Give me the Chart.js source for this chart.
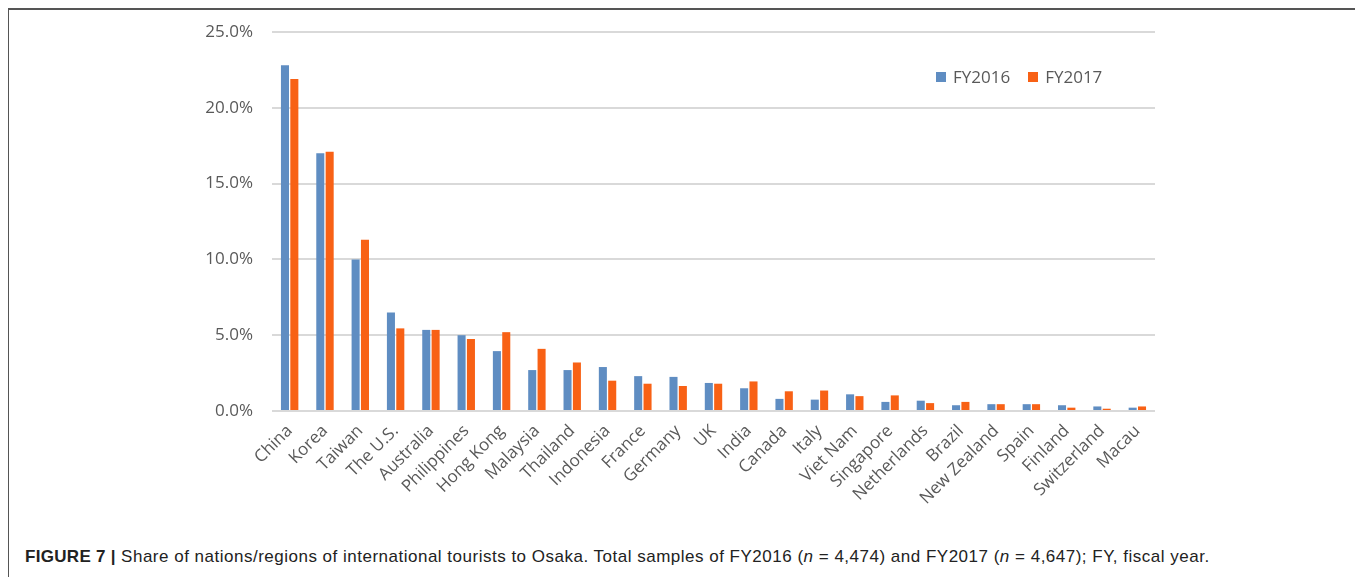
<!DOCTYPE html>
<html>
<head>
<meta charset="utf-8">
<script src="https://cdn.jsdelivr.net/npm/chart.js@4/dist/chart.umd.min.js"></script>
<style>
	body { margin: 0; background: #fff; width: 1355px; height: 577px; overflow: hidden; position: relative; }
	.frame { position: absolute; left: 8px; top: 8px; right: 0; bottom: 0; border-top: 2px solid #555; border-left: 1px solid #555; }
	.wrap { position: absolute; left: 0; top: 0; width: 1355px; height: 540px; }
	.legend { position: absolute; left: 936px; top: 65px; font: 17px 'Open Sans', sans-serif; color: #595959; display: flex; }
	.legend span { display: flex; align-items: center; margin-right: 18px; }
	.legend i { display: inline-block; width: 10px; height: 10px; margin-right: 7px; }
	.caption { position: absolute; left: 25px; top: 547px; font: 17px 'Liberation Sans', Arial, sans-serif; color: #222; white-space: nowrap; letter-spacing: 0.5px; }
	.caption b { font-weight: bold; letter-spacing: 0.3px; }
</style>
</head>
<body>
<div class="frame"></div>
<div class="wrap"><canvas id="myChart"></canvas></div>
<div class="legend" id="legend"></div>
<div class="caption"><b>FIGURE 7 |</b> Share of nations/regions of international tourists to Osaka. Total samples of FY2016 (<i>n</i> = 4,474) and FY2017 (<i>n</i> = 4,647); FY, fiscal year.</div>
<script>
// Countries and share of visitors (%)
let countries = ['China', 'Korea', 'Taiwan', 'The U.S.', 'Australia', 'Philippines', 'Hong Kong', 'Malaysia', 'Thailand',
	'Indonesia', 'France', 'Germany', 'UK', 'India', 'Canada', 'Italy', 'Viet Nam', 'Singapore', 'Netherlands',
	'Brazil', 'New Zealand', 'Spain', 'Finland', 'Switzerland', 'Macau'];
let fy2016 = [22.8, 17.0, 10.0, 6.5, 5.35, 5.0, 3.95, 2.7, 2.7, 2.9, 2.3, 2.25, 1.85, 1.5, 0.8, 0.75, 1.1, 0.6, 0.68, 0.38, 0.45, 0.45, 0.38, 0.3, 0.22];
let fy2017 = [21.9, 17.1, 11.3, 5.45, 5.35, 4.75, 5.2, 4.1, 3.2, 2.0, 1.8, 1.65, 1.8, 1.95, 1.3, 1.35, 0.98, 1.03, 0.52, 0.6, 0.45, 0.45, 0.22, 0.15, 0.3];
let yTicks = [0, 5, 10, 15, 20, 25];

let seriesNames = ['FY2016', 'FY2017'];
let seriesColors = ['#5f8dc2', '#f86115'];

const font = { family: "'Open Sans', sans-serif", size: 17 };

const ctx = document.getElementById('myChart').getContext('2d');
const myChart = new Chart(ctx, {
	type: 'bar',
	data: {
		labels: countries,
		datasets: [fy2016, fy2017].map((d, i) => ({
			label: seriesNames[i],
			data: d,
			backgroundColor: seriesColors[i],
			barPercentage: 0.86,
			categoryPercentage: 0.53
		}))
	},
	options: {
		responsive: true,
		maintainAspectRatio: false,
		animation: false,
		layout: { padding: { left: 0, right: 200, top: 32, bottom: 0 } },
		plugins: { legend: { display: false }, tooltip: { enabled: false } },
		scales: {
			x: {
				grid: { display: false, drawTicks: false },
				border: { display: false },
				ticks: { color: '#595959', font: font, minRotation: 45, maxRotation: 45, padding: 10, autoSkip: false },
				afterFit: (s) => { s.height = 129; }
			},
			y: {
				min: 0,
				max: 25,
				afterBuildTicks: (s) => { s.ticks = yTicks.map(v => ({ value: v })); },
				grid: { color: '#d9d9d9', lineWidth: 2, drawTicks: false },
				border: { display: false },
				ticks: { color: '#595959', font: font, padding: 19, callback: (v) => v.toFixed(1) + '%' },
				afterFit: (s) => { s.width = 272; }
			}
		}
	}
});

// legend in the upper right of the plot
let legend = document.getElementById('legend');
myChart.data.datasets.forEach((ds) => {
	legend.innerHTML += '<span><i style="background:' + ds.backgroundColor + '"></i>' + ds.label + '</span>';
});
</script>
</body>
</html>
